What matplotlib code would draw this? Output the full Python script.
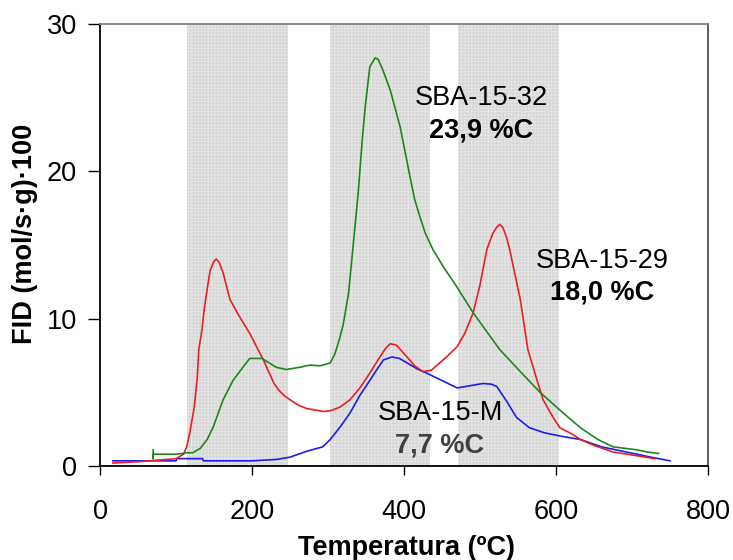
import matplotlib
matplotlib.use("Agg")
import matplotlib.pyplot as plt

plt.rcParams['font.family'] = ['Liberation Sans', 'DejaVu Sans']
plt.rcParams['hatch.linewidth'] = 0.6

# Temperature-programmed oxidation profiles (FID signal vs temperature)
t_29 = [17, 53, 100, 110, 114, 118, 124, 128, 130, 134, 137, 141, 145, 150, 153, 157, 162,
        171, 184, 197, 206, 215, 222, 229, 236, 243, 250, 262, 272, 283, 294, 303, 316, 329,
        342, 355, 367, 376, 382, 390, 397, 404, 414, 425, 436, 447, 458, 470, 480, 491, 500,
        509, 517, 522, 526, 530, 535, 539, 546, 553, 563, 574, 583, 595, 605, 620, 632, 650,
        675, 700, 730]
v_29 = [0.2, 0.3, 0.5, 0.8, 1.3, 2.2, 4.0, 6.0, 7.9, 9.2, 10.6, 12.0, 13.3, 13.9, 14.05, 13.8,
        13.1, 11.3, 10.1, 9.0, 8.1, 7.2, 6.4, 5.6, 5.1, 4.75, 4.5, 4.1, 3.9, 3.8, 3.7, 3.75,
        4.0, 4.5, 5.3, 6.3, 7.3, 8.0, 8.3, 8.2, 7.8, 7.4, 6.8, 6.4, 6.5, 7.0, 7.5, 8.1, 9.0,
        10.4, 12.3, 14.7, 15.8, 16.2, 16.4, 16.2, 15.5, 14.7, 13.0, 11.3, 7.9, 6.0, 4.5, 3.4,
        2.6, 2.2, 1.8, 1.4, 0.95, 0.75, 0.5]

t_32 = [70, 70, 70, 101, 114, 122, 132, 141, 149, 162, 175, 188, 197, 213, 232, 245, 263, 276,
        290, 303, 309, 315, 320, 327, 333, 340, 345, 349, 355, 362, 366, 372, 382, 395, 408,
        414, 421, 428, 438, 452, 469, 491, 526, 555, 579, 605, 632, 655, 675, 706, 720, 735]
v_32 = [1.1, 0.5, 0.8, 0.8, 0.9, 0.9, 1.2, 1.8, 2.65, 4.5, 5.8, 6.7, 7.3, 7.3, 6.7, 6.55, 6.7,
        6.85, 6.8, 7.0, 7.6, 8.6, 9.6, 11.7, 14.9, 18.7, 22.1, 24.4, 27.1, 27.7, 27.6, 26.9,
        25.5, 23.0, 19.6, 18.1, 16.9, 15.8, 14.7, 13.5, 12.2, 10.4, 7.9, 6.3, 5.0, 3.8, 2.6,
        1.8, 1.3, 1.1, 0.95, 0.85]

t_m = [17, 100, 101, 115, 135, 136, 200, 233, 250, 272, 293, 303, 316, 329, 342, 355, 365, 373,
       384, 394, 404, 417, 430, 450, 470, 487, 504, 515, 522, 535, 548, 565, 585, 609, 632, 660,
       697, 725, 750]
v_m = [0.35, 0.35, 0.5, 0.5, 0.5, 0.35, 0.35, 0.45, 0.6, 1.0, 1.3, 1.8, 2.65, 3.6, 4.8, 5.8,
       6.6, 7.2, 7.4, 7.3, 7.0, 6.6, 6.3, 5.8, 5.3, 5.45, 5.6, 5.55, 5.4, 4.4, 3.3, 2.6, 2.25,
       2.0, 1.8, 1.3, 0.9, 0.6, 0.35]

# Temperature windows highlighted on the plot
bands = [(115, 247), (302, 434), (471, 604)]

x_ticks = [0, 200, 400, 600, 800]
y_ticks = [0, 10, 20, 30]

fig = plt.figure(figsize=(7.33, 5.60), dpi=100)
ax = fig.add_axes([100 / 733, 94 / 560, 608 / 733, 442 / 560])

for lo, hi in bands:
    ax.axvspan(lo, hi, facecolor='#d6d6d6', edgecolor='#e6e6e6', hatch='+++++',
               linewidth=0, zorder=0)

lw = 1.2
ax.plot(t_m, v_m, color='#1c1cee', lw=lw, zorder=3)
ax.plot(t_29, v_29, color='#ee1c24', lw=lw, zorder=4)
ax.plot(t_32, v_32, color='#1e861e', lw=lw, zorder=5)

ax.set_xlim(0, 800)
ax.set_ylim(0, 30)
ax.set_xticks(x_ticks)
ax.set_yticks(y_ticks)

fs = 19.5
ax.tick_params(axis='x', direction='out', length=6.5, width=1, pad=17, labelsize=fs)
ax.tick_params(axis='y', direction='out', length=8.5, width=1, pad=8, labelsize=fs)

for side in ('left', 'bottom'):
    ax.spines[side].set_color('black')
    ax.spines[side].set_linewidth(1.3)
ax.spines['top'].set_color('#808080')
ax.spines['top'].set_linewidth(1.3)
ax.spines['right'].set_color('#303030')
ax.spines['right'].set_linewidth(1.1)

fig.text(406 / 733, 1 - 555 / 560, 'Temperatura (ºC)', ha='center', va='baseline',
         fontsize=fs, fontweight='bold')
fig.text(25 / 733, 1 - 234 / 560, 'FID (mol/s·g)·100', ha='center', va='center',
         rotation=90, fontsize=fs, fontweight='bold')

ax.text(502, 24.5, 'SBA-15-32', ha='center', va='baseline', fontsize=fs, zorder=6)
ax.text(502, 22.33, '23,9 %C', ha='center', va='baseline', fontsize=fs,
        fontweight='bold', zorder=6)
ax.text(660.5, 13.44, 'SBA-15-29', ha='center', va='baseline', fontsize=fs, zorder=6)
ax.text(660.5, 11.27, '18,0 %C', ha='center', va='baseline', fontsize=fs,
        fontweight='bold', zorder=6)
ax.text(448, 3.12, 'SBA-15-M', ha='center', va='baseline', fontsize=fs, zorder=6)
ax.text(447, 0.95, '7,7 %C', ha='center', va='baseline', fontsize=fs,
        fontweight='bold', color='#404040', zorder=6)

fig.savefig('out.png', dpi=100)
